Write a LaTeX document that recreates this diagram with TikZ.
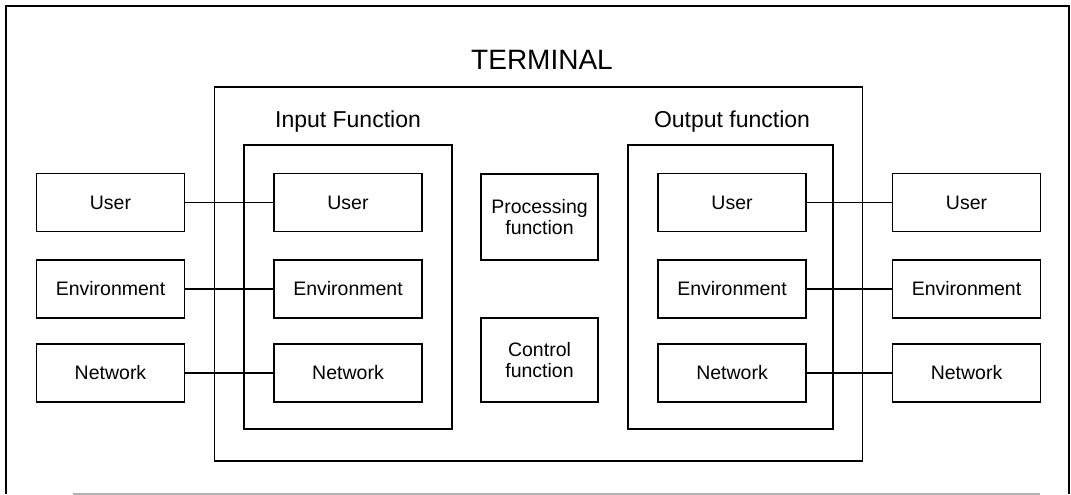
\documentclass[tikz,border=0pt]{standalone}
\usepackage{fontspec}
\setmainfont{Liberation Sans}
\begin{document}
\begin{tikzpicture}[x=1pt,y=-1pt,
  box/.style={draw, line width=1.5pt, inner sep=0pt, align=center,
    minimum width=148pt, minimum height=58pt,
    font=\fontsize{19.5}{21}\selectfont},
  group/.style={draw, line width=1.5pt, inner sep=0pt},
  title/.style={inner sep=0pt, font=\fontsize{23}{26}\selectfont},
  link/.style={line width=1.4pt}]
\useasboundingbox (0,0) rectangle (1071,495);

% outer frame
\coordinate (fbl) at (6,494);
\coordinate (ftl) at (6,6);
\coordinate (ftr) at (1069,6);
\coordinate (fbr) at (1069,494);
\coordinate (gl) at (73,494);
\coordinate (gr) at (1040,494);
\draw[line width=2pt] (fbl) -- (ftl) -- (ftr) -- (fbr);
\draw[line width=1.5pt, black!30] (gl) -- (gr);

% terminal and its two function groups
\node[inner sep=0pt, font=\fontsize{28}{30}\selectfont] (term) at (542,60) {TERMINAL};
\node[group, minimum width=648pt, minimum height=374pt] (tbox) at (538.5,274) {};

\node[title] (inT) at (348,122) {Input Function};
\node[group, minimum width=208pt, minimum height=284pt] (inbox) at (348,287) {};
\node[title] (outT) at (732,122) {Output function};
\node[group, minimum width=205pt, minimum height=284pt] (outbox) at (730.5,287) {};

% middle functions
\node[box, minimum width=117pt, minimum height=86pt] (proc) at (539.5,217) {Processing\\function};
\node[box, minimum width=117pt, minimum height=84pt] (ctrl) at (539.5,360) {Control\\function};

% outside, left
\node[box] (uL) at (110.5,202.5) {User};
\node[box] (eL) at (110.5,289) {Environment};
\node[box] (nL) at (110.5,373) {Network};
% input function
\node[box] (uI) at (348,202.5) {User};
\node[box] (eI) at (348,289) {Environment};
\node[box] (nI) at (348,373) {Network};
% output function
\node[box] (uO) at (732,202.5) {User};
\node[box] (eO) at (732,289) {Environment};
\node[box] (nO) at (732,373) {Network};
% outside, right
\node[box] (uR) at (966.5,202.5) {User};
\node[box] (eR) at (966.5,289) {Environment};
\node[box] (nR) at (966.5,373) {Network};

% connections
\draw[link] (uL.east) -- (uI.west);
\draw[link] (eL.east) -- (eI.west);
\draw[link] (nL.east) -- (nI.west);
\draw[link] (uO.east) -- (uR.west);
\draw[link] (eO.east) -- (eR.west);
\draw[link] (nO.east) -- (nR.west);
\end{tikzpicture}
\end{document}
